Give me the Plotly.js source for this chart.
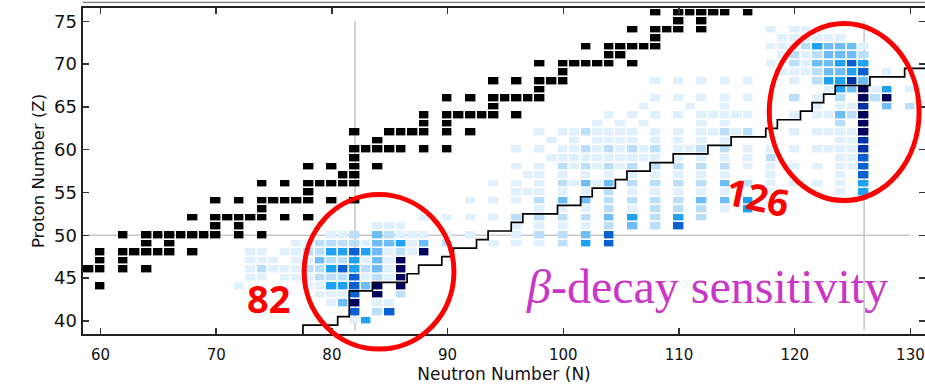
<!DOCTYPE html>
<html>
<head>
<meta charset="utf-8">
<script src="https://cdn.plot.ly/plotly-3.0.1.min.js"></script>
<style>
  html, body { margin: 0; padding: 0; background: #fff; }
  #chart { width: 925px; height: 386px; }
</style>
</head>
<body>
<div id="chart"></div>
<script>
// Stable nuclei: proton number Z and the neutron numbers N present for it
const stableZ = [44, 46, 47, 48, 49, 50, 51, 52, 53, 54, 55, 56, 57, 58, 59, 60, 61, 62, 63, 64, 65, 66, 67, 68, 69, 70, 71, 72, 73, 74, 75, 76];
const stableN = [
  [60],
  [59, 60, 62, 64],
  [60, 62],
  [60, 62, 63, 64, 65, 66, 68],
  [64, 66],
  [62, 64, 65, 66, 67, 68, 69, 70, 72, 74],
  [70, 72],
  [68, 70, 71, 72, 73, 74, 76, 78],
  [74],
  [70, 72, 74, 75, 76, 77, 78, 80, 82],
  [78],
  [74, 76, 78, 79, 80, 81, 82],
  [81, 82],
  [78, 80, 82, 84],
  [82],
  [82, 83, 84, 85, 86, 88, 90],
  [84],
  [82, 85, 86, 87, 88, 90, 92],
  [88, 90],
  [88, 90, 91, 92, 93, 94, 96],
  [94],
  [90, 92, 94, 95, 96, 97, 98],
  [98],
  [94, 96, 98, 99, 100],
  [100],
  [98, 100, 101, 102, 103, 104, 106],
  [104, 105],
  [102, 104, 105, 106, 107, 108],
  [108],
  [106, 108, 109, 110, 112],
  [110, 112],
  [108, 110, 111, 112, 113, 114, 116]
];

// beta-decay sensitivity: for each Z row, the N values and a level 1 (weak) .. 7 (strong)
const sensZ = [40, 41, 42, 43, 44, 45, 46, 47, 48, 49, 50, 51, 52, 53, 54, 55, 56, 57, 58, 59, 60, 61, 62, 63, 64, 65, 66, 67, 68, 69, 70, 71, 72, 73, 74];
const sensN = [
  [82, 83],
  [82, 84, 85],
  [80, 81, 82, 84, 85],
  [79, 80, 81, 82, 84, 86],
  [72, 78, 79, 80, 81, 82, 83, 84, 86],
  [73, 74, 76, 77, 78, 79, 80, 81, 82, 83, 84, 85, 86],
  [73, 74, 75, 76, 77, 78, 79, 80, 81, 82, 83, 84, 85, 86],
  [73, 74, 75, 77, 78, 79, 80, 81, 82, 83, 84, 85, 86],
  [73, 74, 76, 77, 78, 79, 80, 81, 82, 83, 84, 85, 86, 87, 88],
  [77, 78, 79, 80, 81, 82, 83, 84, 85, 86, 87, 88, 90, 94, 96, 98, 100, 102, 104],
  [80, 81, 82, 84, 85, 86, 87, 88, 90, 92, 96, 98, 100, 102, 104],
  [84, 85, 86, 96, 98, 100, 102, 104, 106, 108, 110],
  [88, 90, 92, 94, 96, 98, 100, 102, 104, 106, 108, 110, 112],
  [98, 100, 102, 104, 106, 108, 110, 112, 114, 116],
  [92, 94, 96, 98, 100, 102, 104, 106, 108, 110, 112, 114, 116],
  [96, 97, 98, 100, 102, 104, 106, 108, 110, 112, 114, 118, 124, 126],
  [94, 96, 98, 100, 101, 102, 103, 104, 106, 108, 110, 112, 114, 116, 118, 120, 122, 124, 126],
  [97, 98, 100, 102, 104, 106, 108, 110, 112, 114, 118, 124, 126],
  [96, 98, 100, 101, 102, 103, 104, 105, 106, 108, 110, 112, 114, 116, 118, 120, 122, 124, 125, 126],
  [99, 100, 101, 102, 103, 104, 105, 106, 107, 108, 110, 112, 114, 116, 118, 124, 125, 126],
  [96, 98, 100, 101, 102, 103, 104, 105, 106, 107, 108, 110, 111, 112, 114, 116, 118, 120, 122, 123, 124, 125, 126],
  [99, 101, 103, 104, 105, 106, 108, 110, 112, 114, 124, 125, 126],
  [98, 100, 101, 102, 103, 104, 105, 106, 108, 110, 112, 113, 114, 115, 116, 120, 122, 123, 124, 125, 126],
  [103, 105, 107, 112, 114, 124, 126],
  [104, 106, 108, 110, 112, 113, 114, 115, 116, 120, 122, 123, 124, 125, 126],
  [107, 111, 114, 122, 124, 125, 126, 128, 130],
  [108, 110, 112, 114, 116, 120, 122, 124, 126, 127, 128],
  [123, 124, 125, 126, 127, 128, 130],
  [108, 110, 112, 114, 116, 120, 122, 123, 124, 125, 126, 128],
  [119, 120, 121, 122, 123, 124, 125, 126, 128],
  [118, 120, 121, 122, 123, 124, 125, 126],
  [119, 120, 121, 122, 123, 124, 125, 126],
  [118, 119, 120, 121, 122, 123, 124, 125, 126],
  [119, 120, 121, 122, 123, 124],
  [118, 120, 121]
];
const sensLevel = [
  [1, 4],
  [5, 2, 5],
  [1, 3, 7, 1, 1],
  [1, 1, 1, 5, 7, 2],
  [1, 1, 1, 4, 4, 5, 3, 7, 7],
  [1, 1, 1, 1, 1, 2, 2, 2, 5, 1, 2, 1, 7],
  [1, 2, 1, 1, 1, 2, 2, 4, 5, 4, 2, 3, 1, 7],
  [1, 1, 1, 1, 1, 3, 2, 2, 4, 1, 3, 1, 7],
  [1, 1, 1, 1, 2, 2, 4, 4, 5, 4, 3, 1, 2, 1, 7],
  [1, 1, 2, 2, 2, 2, 1, 3, 3, 4, 1, 3, 2, 1, 1, 1, 2, 4, 5],
  [1, 1, 2, 3, 2, 1, 1, 1, 1, 1, 1, 2, 2, 3, 5],
  [1, 1, 1, 1, 1, 1, 1, 2, 3, 2, 5],
  [1, 1, 1, 1, 2, 2, 2, 2, 3, 4, 2, 4, 2],
  [1, 1, 1, 2, 1, 2, 2, 2, 1, 4],
  [1, 1, 1, 2, 3, 3, 2, 2, 2, 2, 3, 3, 4],
  [1, 1, 1, 1, 1, 2, 1, 1, 1, 1, 1, 1, 1, 4],
  [1, 1, 1, 2, 1, 3, 1, 3, 2, 2, 2, 2, 3, 2, 1, 1, 1, 1, 4],
  [1, 1, 1, 1, 1, 1, 1, 1, 1, 1, 1, 1, 5],
  [1, 1, 2, 1, 2, 1, 2, 1, 2, 2, 2, 2, 2, 1, 1, 1, 1, 1, 1, 5],
  [1, 1, 1, 1, 1, 1, 1, 1, 1, 1, 1, 1, 1, 1, 2, 1, 1, 5],
  [1, 1, 1, 1, 2, 1, 2, 1, 2, 1, 2, 1, 1, 2, 2, 1, 1, 1, 1, 1, 1, 1, 6],
  [1, 1, 1, 1, 1, 1, 1, 1, 1, 1, 1, 1, 6],
  [1, 1, 1, 2, 1, 1, 1, 1, 1, 1, 1, 1, 2, 1, 2, 1, 1, 1, 1, 1, 7],
  [1, 1, 1, 1, 1, 2, 7],
  [1, 1, 1, 1, 1, 1, 1, 1, 1, 1, 1, 1, 3, 2, 7],
  [1, 1, 1, 1, 1, 1, 6, 3, 2],
  [1, 1, 1, 1, 1, 2, 1, 2, 7, 2, 7],
  [1, 4, 3, 7, 1, 4, 1],
  [1, 1, 1, 1, 1, 1, 2, 4, 4, 6, 3],
  [1, 1, 1, 2, 3, 3, 4, 5, 1],
  [1, 2, 1, 3, 3, 4, 5, 4],
  [1, 2, 1, 2, 3, 3, 3, 2],
  [1, 1, 1, 2, 4, 3, 3, 3, 1],
  [1, 1, 1, 1, 1, 1],
  [1, 1, 1]
];
const sensColors = ['#e1f0fd', '#bcdff9', '#6ebdf7', '#1fa1f4', '#0a60d0', '#0031a6', '#00005c'];

// r-process path: corner points of the step line (horizontal, then vertical)
const pathN = [77.5, 77.5, 80.5, 81.5, 83.5, 86.5, 87.5, 89.5, 90.5, 92.5, 93.5, 95.5, 96.5, 99.5, 101.5, 102.5, 104.5, 105.5, 107.5, 109.5, 112.5, 114.5, 117.5, 118.5, 120.5, 121.5, 122.5, 123.5, 126.5, 129.5, 132];
const pathZ = [38.0, 39.5, 40.5, 43.5, 44.5, 45.5, 46.5, 47.5, 48.5, 49.5, 50.5, 51.5, 52.5, 53.5, 54.5, 55.5, 56.5, 57.5, 58.5, 59.5, 60.5, 61.5, 62.5, 63.5, 64.5, 65.5, 66.5, 67.5, 68.5, 69.5, 69.5];

// magic numbers marked by guide lines
const magicN = [82, 126];
const magicZ = [50];

// highlighted regions (N and Z extents of each ring)
const ringN = [[77.6, 90.55], [117.8, 130.75]];
const ringZ = [[36.7, 54.75], [54.05, 74.75]];

const xRange = [58.49, 131.26];
const yRange = [38.46, 76.56];

// full integer grids covering the plotted area
const gridN = [];
for (let n = 57; n <= 132; n++) gridN.push(n);
const gridZ = [];
for (let z = 37; z <= 77; z++) gridZ.push(z);

function buildGrid(rowZ, rowN, rowVal) {
  const zz = gridZ.map(() => gridN.map(() => null));
  rowZ.forEach((z, i) => {
    rowN[i].forEach((n, j) => {
      zz[gridZ.indexOf(z)][gridN.indexOf(n)] = rowVal ? rowVal[i][j] : 1;
    });
  });
  return zz;
}

const stepScale = [];
sensColors.forEach((c, i) => {
  stepScale.push([i / sensColors.length, c]);
  stepScale.push([(i + 1) / sensColors.length, c]);
});

const sensTrace = {
  type: 'heatmap', x: gridN, y: gridZ,
  z: buildGrid(sensZ, sensN, sensLevel),
  zmin: 0.5, zmax: 7.5, colorscale: stepScale, showscale: false,
  xgap: 1.6, ygap: 1.6, hoverinfo: 'skip'
};
const stableTrace = {
  type: 'heatmap', x: gridN, y: gridZ,
  z: buildGrid(stableZ, stableN, null),
  zmin: 0, zmax: 1, colorscale: [[0, '#000'], [1, '#000']], showscale: false,
  xgap: 1.6, ygap: 1.6, hoverinfo: 'skip'
};
const pathTrace = {
  type: 'scatter', mode: 'lines', x: pathN, y: pathZ,
  line: { shape: 'hv', color: '#000', width: 1.7 }, hoverinfo: 'skip', showlegend: false
};

const px = n => (n - xRange[0]) / (xRange[1] - xRange[0]);
const py = z => (z - yRange[0]) / (yRange[1] - yRange[0]);

const shapes = [];
magicN.forEach(n => shapes.push({
  type: 'line', layer: 'below', xref: 'x', yref: 'y', x0: n, x1: n, y0: 38.9, y1: 75,
  line: { color: '#c9c9c9', width: 1.6 }
}));
magicZ.forEach(z => shapes.push({
  type: 'line', layer: 'below', xref: 'x', yref: 'y', x0: xRange[0], x1: 130, y0: z, y1: z,
  line: { color: '#c9c9c9', width: 1.6 }
}));
ringN.forEach((r, i) => shapes.push({
  type: 'circle', layer: 'above', xref: 'paper', yref: 'paper',
  x0: px(r[0]), x1: px(r[1]), y0: py(ringZ[i][0]), y1: py(ringZ[i][1]),
  line: { color: '#ff0000', width: 5 }
}));
// thin frame line above the plot
shapes.push({
  type: 'line', xref: 'paper', yref: 'paper', x0: 0, x1: 1, y0: 1.017, y1: 1.017,
  line: { color: '#777', width: 1.2 }
});

const axisCommon = {
  showgrid: false, zeroline: false, showline: true, linecolor: '#222', linewidth: 2.4,
  mirror: 'ticks', ticks: 'inside', ticklen: 6, tickwidth: 1.4, tickcolor: '#333',
  autorange: false, fixedrange: true
};

const layout = {
  width: 925, height: 386,
  margin: { l: 83, r: 0, t: 8, b: 52 },
  paper_bgcolor: '#fff', plot_bgcolor: '#fff',
  showlegend: false,
  xaxis: Object.assign({}, axisCommon, {
    range: xRange, tick0: 60, dtick: 10,
    tickfont: { family: 'DejaVu Sans', size: 15, color: '#111' },
    ticklabelstandoff: 6,
    title: { text: 'Neutron Number (N)', font: { family: 'DejaVu Sans', size: 17, color: '#111' }, standoff: 4 }
  }),
  yaxis: Object.assign({}, axisCommon, {
    range: yRange, tick0: 40, dtick: 5,
    tickfont: { family: 'DejaVu Sans', size: 18, color: '#111' },
    ticklabelstandoff: 0,
    title: { text: 'Proton Number (Z)', font: { family: 'DejaVu Sans', size: 16.5, color: '#111' }, standoff: 6 }
  }),
  shapes: shapes,
  annotations: [
    { x: 74.5, y: 42.7, xref: 'x', yref: 'y', text: '<b>82</b>', showarrow: false,
      font: { family: 'Open Sans', size: 38, color: '#ff0000' } },
    { x: 116.8, y: 54.5, xref: 'x', yref: 'y', text: '<b>126</b>', showarrow: false, textangle: 12,
      font: { family: 'Open Sans', size: 37, color: '#ff0000' } },
    { x: 112.4, y: 44.0, xref: 'x', yref: 'y', text: '<i>β</i>-decay sensitivity', showarrow: false,
      font: { family: 'Liberation Serif', size: 48, color: '#c837c8' } }
  ]
};

Plotly.newPlot('chart', [sensTrace, stableTrace, pathTrace], layout, { displayModeBar: false, staticPlot: true });
</script>
</body>
</html>
